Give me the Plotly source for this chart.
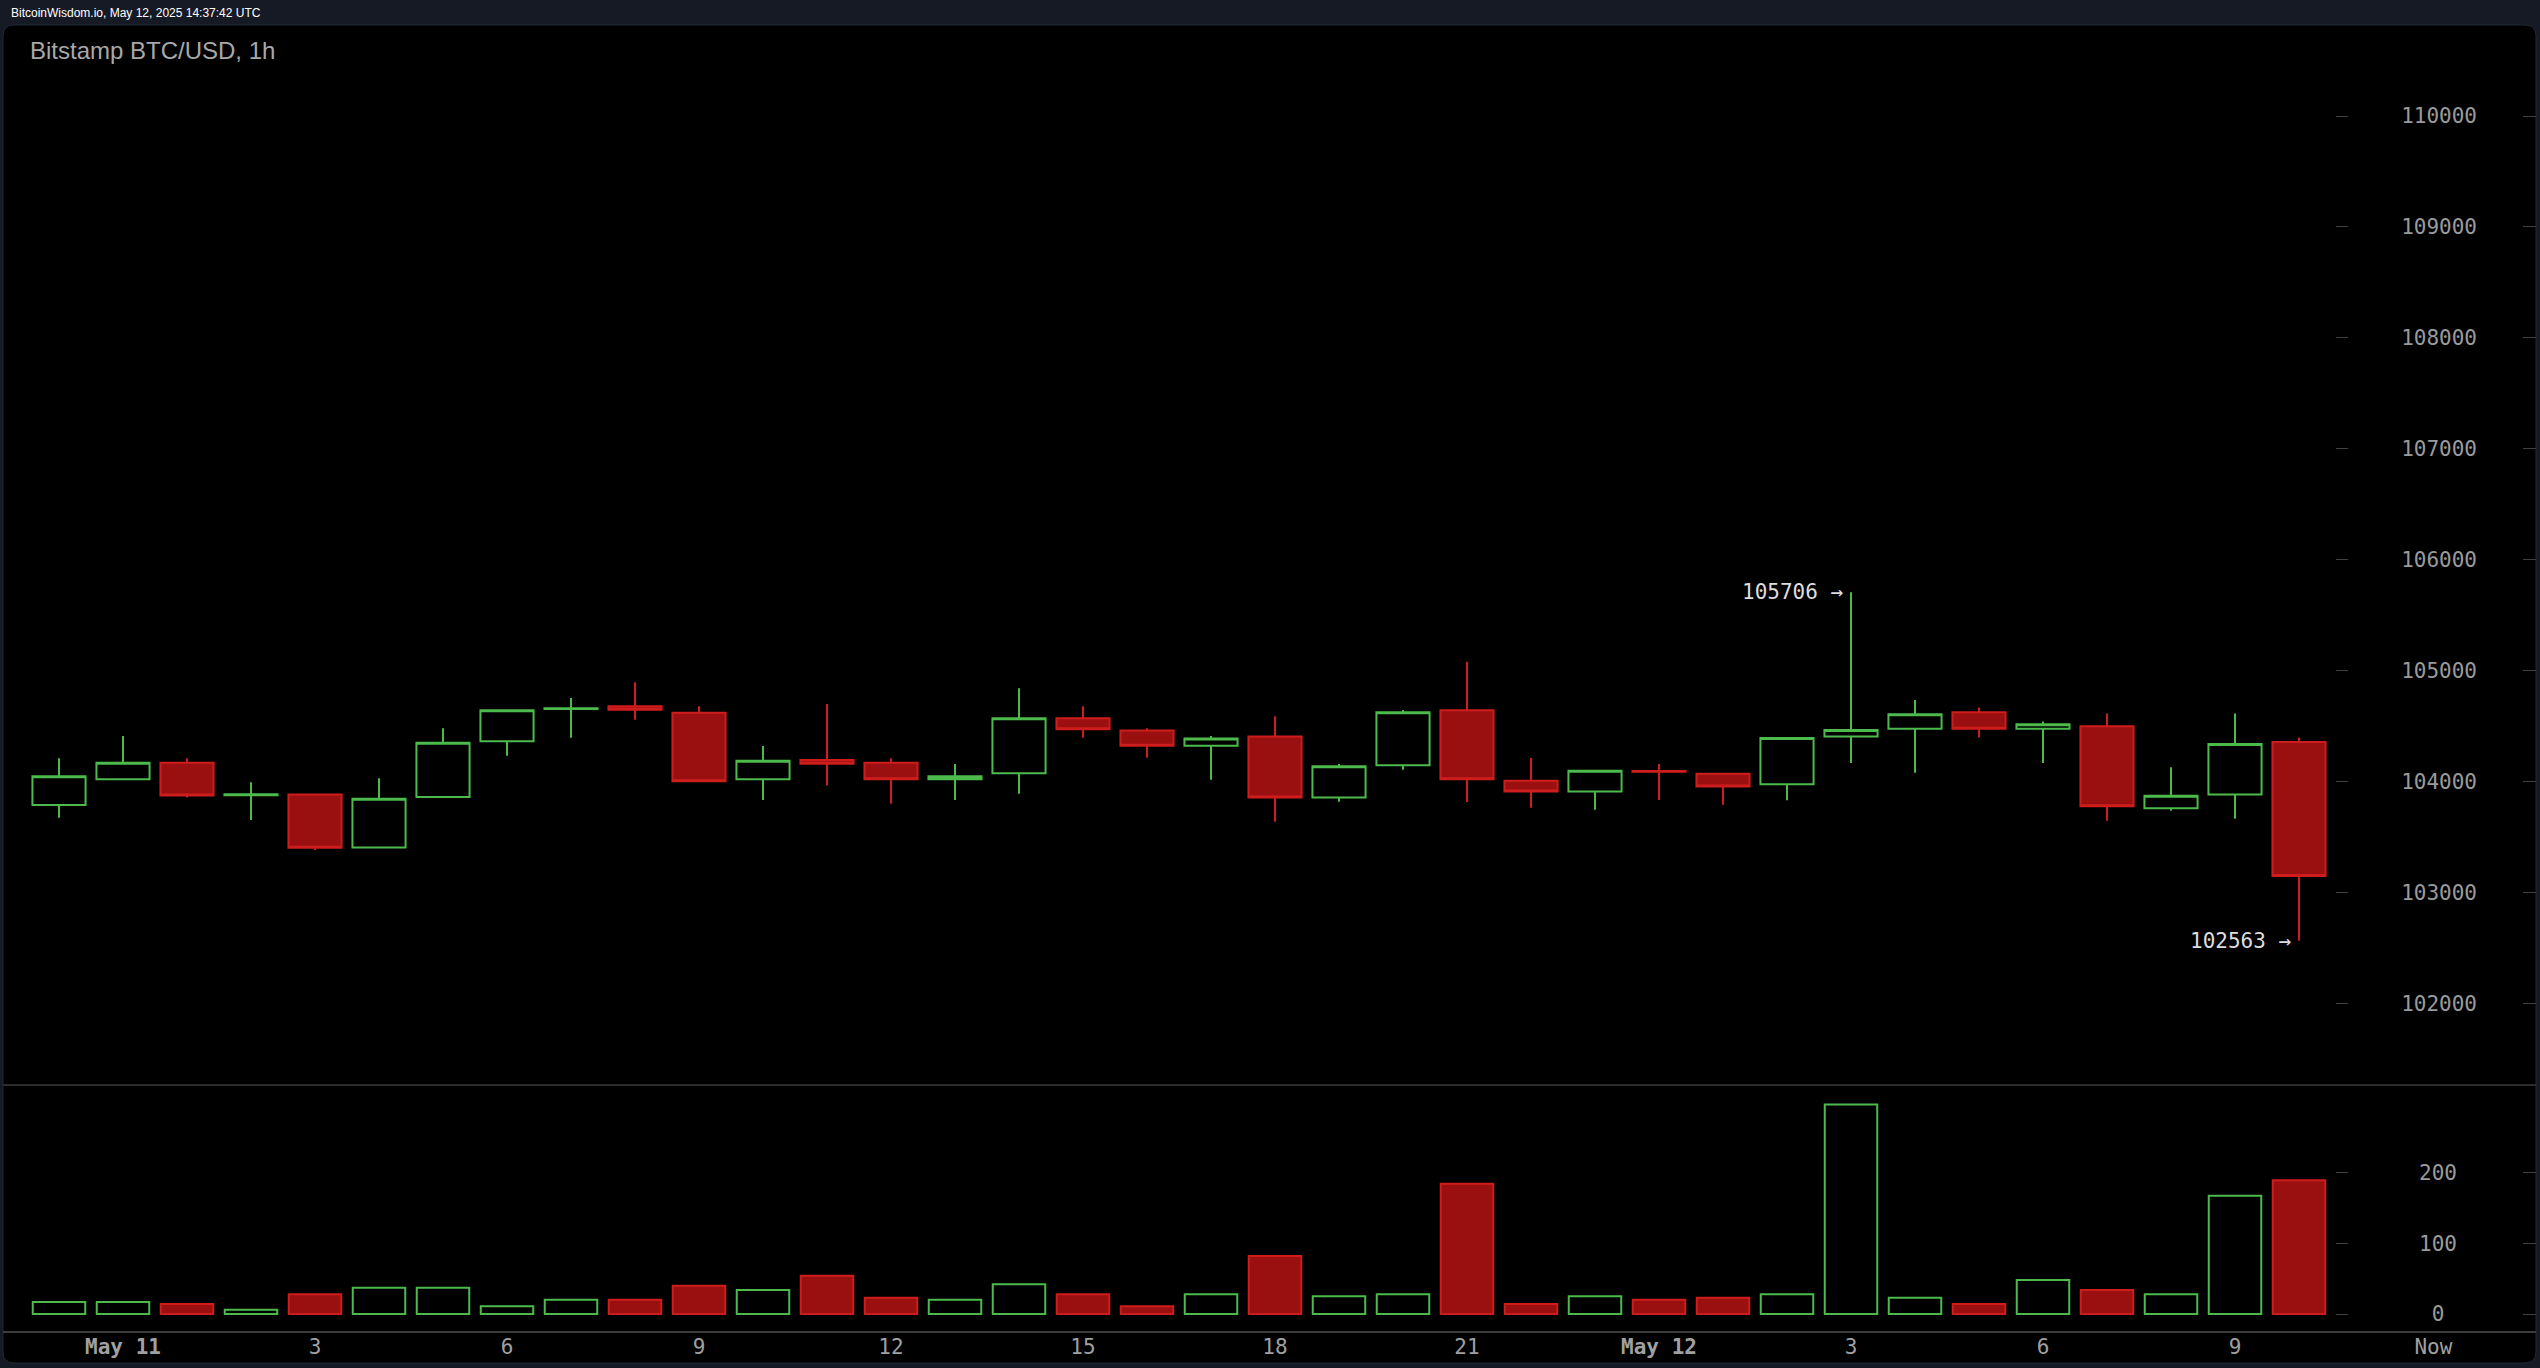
import pandas as pd
import plotly.graph_objects as go

# ---------------- data ----------------
times = [
    "2025-05-10 23:00", "2025-05-11 00:00", "2025-05-11 01:00", "2025-05-11 02:00",
    "2025-05-11 03:00", "2025-05-11 04:00", "2025-05-11 05:00", "2025-05-11 06:00",
    "2025-05-11 07:00", "2025-05-11 08:00", "2025-05-11 09:00", "2025-05-11 10:00",
    "2025-05-11 11:00", "2025-05-11 12:00", "2025-05-11 13:00", "2025-05-11 14:00",
    "2025-05-11 15:00", "2025-05-11 16:00", "2025-05-11 17:00", "2025-05-11 18:00",
    "2025-05-11 19:00", "2025-05-11 20:00", "2025-05-11 21:00", "2025-05-11 22:00",
    "2025-05-11 23:00", "2025-05-12 00:00", "2025-05-12 01:00", "2025-05-12 02:00",
    "2025-05-12 03:00", "2025-05-12 04:00", "2025-05-12 05:00", "2025-05-12 06:00",
    "2025-05-12 07:00", "2025-05-12 08:00", "2025-05-12 09:00", "2025-05-12 10:00",
]
opens = [103787, 104019, 104169, 103875, 103883, 103405, 103859, 104361, 104653, 104677,
         104620, 104019, 104193, 104169, 104019, 104073, 104569, 104460, 104322, 104406,
         103856, 104145, 104641, 104007, 103910, 104094, 104068, 103975, 104406, 104475,
         104624, 104475, 104498, 103757, 103882, 104355]
highs = [104208, 104409, 104208, 103992, 103890, 104028, 104479, 104645, 104752, 104893,
         104677, 104319, 104698, 104208, 104157, 104839, 104677, 104479, 104409, 104587,
         104157, 104644, 105080, 104211, 104100, 104157, 104075, 104395, 105706, 104735,
         104666, 104540, 104612, 104128, 104612, 104397]
lows = [103673, 104010, 103856, 103652, 103381, 103400, 103855, 104232, 104394, 104557,
        103995, 103832, 103962, 103799, 103832, 103889, 104394, 104214, 104016, 103637,
        103817, 104106, 103814, 103763, 103745, 103832, 103790, 103829, 104167, 104077,
        104397, 104167, 103646, 103736, 103664, 102563]
closes = [104046, 104169, 103874, 103885, 103402, 103844, 104349, 104641, 104660, 104647,
          104001, 104187, 104160, 104019, 104046, 104569, 104470, 104322, 104388, 103856,
          104136, 104623, 104019, 103910, 104097, 104088, 103954, 104391, 104463, 104606,
          104475, 104516, 103775, 103870, 104337, 103147]
volumes = [17, 17, 14, 6, 28, 37, 37, 11, 20, 20, 40, 34, 54, 23, 20, 42, 28, 11, 28, 82,
           25, 28, 184, 14, 25, 20, 23, 28, 296, 23, 14, 48, 34, 28, 167, 189]

x_tick_vals = ["2025-05-11 00:00", "2025-05-11 03:00", "2025-05-11 06:00", "2025-05-11 09:00",
               "2025-05-11 12:00", "2025-05-11 15:00", "2025-05-11 18:00", "2025-05-11 21:00",
               "2025-05-12 00:00", "2025-05-12 03:00", "2025-05-12 06:00", "2025-05-12 09:00",
               "2025-05-12 12:06"]
x_tick_text = ["<b>May 11</b>", "3", "6", "9", "12", "15", "18", "21", "<b>May 12</b>",
               "3", "6", "9", "Now"]
price_ticks = [102000, 103000, 104000, 105000, 106000, 107000, 108000, 109000, 110000]
price_tick_text = [str(v) for v in price_ticks]
vol_ticks = [0, 100, 200]
vol_tick_text = ["0\u00a0", "100", "200"]

title_text = "Bitstamp BTC/USD, 1h"
stamp_text = "BitcoinWisdom.io, May 12, 2025 14:37:42 UTC"

# ---------------- styling ----------------
W, H = 2540, 1368
GREEN = "#4cbb4c"
RED_LINE = "#cf1c1c"
RED_FILL = "#9a1010"
NAVY = "#161a24"
MONO = "DejaVu Sans Mono"
SANS = "Liberation Sans, Arial, sans-serif"
TICK_GREY = "#404040"
LABEL_GREY = "#9a9a9a"


def py(p):  # pixel row -> paper fraction
    return 1 - p / H


def px(p):
    return p / W


# x range from pixel geometry (64 px per hour, May 11 00:00 at px 123)
base = pd.Timestamp("2025-05-11 00:00")
x_left = base + pd.Timedelta(hours=(3 - 123) / 64)
x_right = base + pd.Timedelta(hours=(2536 - 123) / 64)

up = [c >= o for o, c in zip(opens, closes)]
vol_fill = ["#000000" if u else RED_FILL for u in up]
vol_line = [GREEN if u else RED_LINE for u in up]

fig = go.Figure()
fig.add_trace(go.Candlestick(
    x=times, open=opens, high=highs, low=lows, close=closes,
    increasing=dict(line=dict(color=GREEN, width=2), fillcolor="#000000"),
    decreasing=dict(line=dict(color=RED_LINE, width=2), fillcolor=RED_FILL),
    whiskerwidth=0, xaxis="x", yaxis="y", showlegend=False, hoverinfo="skip",
))
fig.add_trace(go.Bar(
    x=times, y=volumes, width=0.82 * 3600000,
    marker=dict(color=vol_fill, line=dict(color=vol_line, width=2)),
    xaxis="x", yaxis="y2", showlegend=False, hoverinfo="skip",
))
# invisible anchors so the extra tick/label axes get drawn
for yax, yval in (("y3", closes[0]), ("y5", closes[0]), ("y4", volumes[0]), ("y6", volumes[0])):
    fig.add_trace(go.Scatter(
        x=[times[0]], y=[yval], xaxis="x", yaxis=yax, mode="markers",
        marker=dict(opacity=0, size=1), showlegend=False, hoverinfo="skip",
    ))

# high / low markers
hi_i = highs.index(max(highs))
lo_i = lows.index(min(lows))
annotations = [
    dict(x=times[hi_i], y=highs[hi_i], xref="x", yref="y", text=f"{highs[hi_i]} \u2192",
         showarrow=False, xanchor="right", yanchor="middle", xshift=-6,
         font=dict(family=MONO, size=21, color="#dddddd")),
    dict(x=times[lo_i], y=lows[lo_i], xref="x", yref="y", text=f"{lows[lo_i]} \u2192",
         showarrow=False, xanchor="right", yanchor="middle", xshift=-6,
         font=dict(family=MONO, size=21, color="#dddddd")),
    dict(x=px(28), y=py(51), xref="paper", yref="paper", text=title_text,
         showarrow=False, xanchor="left", yanchor="middle",
         font=dict(family=SANS, size=24, color="#a8a8a8")),
    dict(x=px(9), y=py(13), xref="paper", yref="paper", text=stamp_text,
         showarrow=False, xanchor="left", yanchor="middle",
         font=dict(family=SANS, size=12, color="#ffffff")),
]

# rounded black panel
x0, x1 = px(3), px(2536)
yt, yb = py(25), py(1363)
rx, ry = px(11), 11 / H
panel_path = (f"M {x0+rx},{yt} L {x1-rx},{yt} Q {x1},{yt} {x1},{yt-ry} "
              f"L {x1},{yb+ry} Q {x1},{yb} {x1-rx},{yb} L {x0+rx},{yb} "
              f"Q {x0},{yb} {x0},{yb+ry} L {x0},{yt-ry} Q {x0},{yt} {x0+rx},{yt} Z")
shapes = [
    dict(type="path", path=panel_path, xref="paper", yref="paper",
         fillcolor="#000000", line=dict(color="#232834", width=1), layer="below"),
    dict(type="line", xref="paper", yref="paper", x0=x0, x1=x1, y0=py(1085), y1=py(1085),
         line=dict(color="#3a3a3a", width=1.5), layer="below"),
]

price_range = [110000 - (1085 - 116) * 9.017, 110000 + (116 - 25) * 9.017]
vol_range = [-(1331 - 1314) / 0.708, (1314 - 1086) / 0.708]

common_y = dict(showgrid=False, zeroline=False, showline=False, fixedrange=True)
label_font = dict(family=MONO, size=21, color=LABEL_GREY)

fig.update_layout(
    width=W, height=H,
    margin=dict(l=0, r=0, t=0, b=0, pad=0),
    paper_bgcolor=NAVY, plot_bgcolor="rgba(0,0,0,0)",
    font=dict(family=MONO, color=LABEL_GREY),
    boxgap=0.17, boxgroupgap=0,
    xaxis=dict(
        type="date", domain=[x0, x1], range=[x_left, x_right], anchor="y2",
        rangeslider=dict(visible=False), showgrid=False, zeroline=False,
        showline=True, linecolor="#3c3c3c", linewidth=2,
        ticks="", tickvals=x_tick_vals, ticktext=x_tick_text, ticklabelstandoff=-4,
        tickfont=dict(family=MONO, size=21, color="#a0a0a0"), fixedrange=True,
    ),
    xaxis2=dict(
        type="date", matches="x", overlaying="x", anchor="y2", showgrid=False,
        zeroline=False, showline=False, ticks="outside", ticklen=7,
        tickcolor="#555555", tickwidth=1, tickvals=x_tick_vals,
        showticklabels=False, fixedrange=True,
    ),
    # price: dashes at the right edge
    yaxis=dict(
        domain=[py(1085), py(25)], range=price_range, side="right", anchor="x",
        tickvals=price_ticks, ticks="inside", ticklen=13, tickcolor=TICK_GREY,
        showticklabels=False, **common_y,
    ),
    # price: dashes left of the labels
    yaxis3=dict(
        overlaying="y", matches="y", anchor="free", position=px(2348), side="right",
        tickvals=price_ticks, ticks="inside", ticklen=12, tickcolor=TICK_GREY,
        showticklabels=False, **common_y,
    ),
    # price: labels
    yaxis5=dict(
        overlaying="y", matches="y", anchor="free", position=px(2477), side="left",
        tickvals=price_ticks, ticktext=price_tick_text, ticks="",
        tickfont=label_font, **common_y,
    ),
    yaxis2=dict(
        domain=[py(1331), py(1086)], range=vol_range, side="right", anchor="x",
        tickvals=vol_ticks, ticks="inside", ticklen=13, tickcolor=TICK_GREY,
        showticklabels=False, **common_y,
    ),
    yaxis4=dict(
        overlaying="y2", matches="y2", anchor="free", position=px(2348), side="right",
        tickvals=vol_ticks, ticks="inside", ticklen=12, tickcolor=TICK_GREY,
        showticklabels=False, **common_y,
    ),
    yaxis6=dict(
        overlaying="y2", matches="y2", anchor="free", position=px(2457), side="left",
        tickvals=vol_ticks, ticktext=vol_tick_text, ticks="",
        tickfont=label_font, **common_y,
    ),
    annotations=annotations,
    shapes=shapes,
)

fig.write_html(
    "out.html",
    config={"displayModeBar": False, "staticPlot": True},
    post_script="document.body.style.margin='0';document.body.style.overflow='hidden';",
)
